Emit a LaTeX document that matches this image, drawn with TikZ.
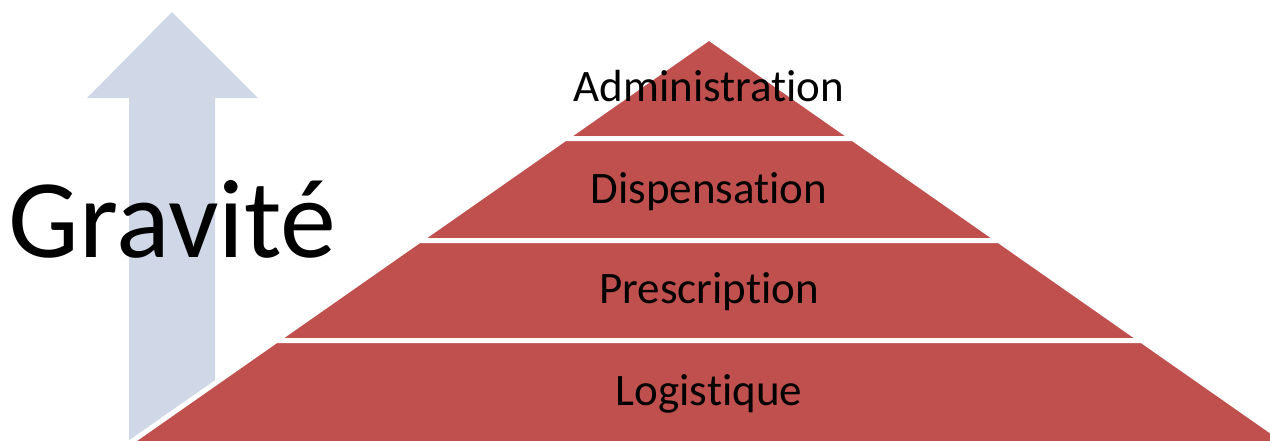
\documentclass[tikz,border=0pt]{standalone}
\usepackage{fontspec}
\setmainfont{Carlito}[Ligatures=NoCommon]
\definecolor{bandred}{HTML}{C0504D}
\definecolor{arrowgrey}{HTML}{D0D8E8}
\tikzset{
  band/.style={fill=bandred, draw=white, line width=5pt},
  bandlabel/.style={anchor=base, inner sep=0pt, font=\fontsize{45}{54}\selectfont},
  biglabel/.style={anchor=base, inner sep=0pt, font=\fontsize{112}{124}\selectfont}
}
\begin{document}
\begin{tikzpicture}[x=1pt, y=-1pt]
\useasboundingbox (0,0) rectangle (1270,440);
\clip (0,0) rectangle (1270,440);

\fill[arrowgrey] (172,12) -- (258,98) -- (215,98) -- (215,470) -- (129,470) -- (129,98) -- (87,98) -- cycle;

\foreach \ya/\yb in {37.9/138.5, 138.5/240.5, 240.5/340.5, 340.5/470}
  \filldraw[band] ({709-1.43*(\ya-37.9)},\ya) -- ({709+1.43*(\ya-37.9)},\ya)
    -- ({709+1.43*(\yb-37.9)},\yb) -- ({709-1.43*(\yb-37.9)},\yb) -- cycle;

\node[bandlabel](admin) at (709,101) {Administration};
\node[bandlabel](disp) at (709,203) {Dispensation};
\node[bandlabel](presc) at (709,303) {Prescription};
\node[bandlabel](logis) at (709,405) {Logistique};

\node[biglabel](gravite) at (172.5,257) {Gravité};
\end{tikzpicture}
\end{document}
